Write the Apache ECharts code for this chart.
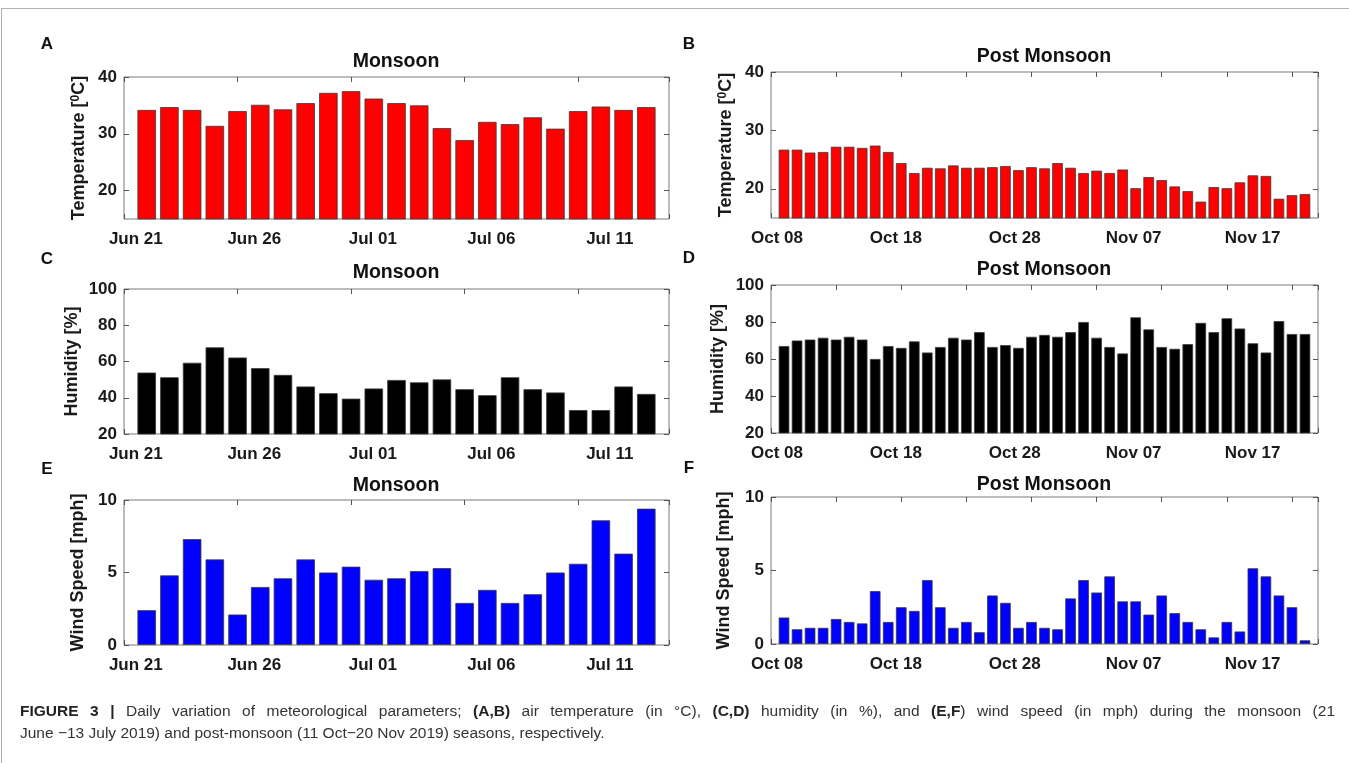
<!DOCTYPE html>
<html><head><meta charset="utf-8">
<script src="https://cdn.jsdelivr.net/npm/echarts@6/dist/echarts.min.js"></script>
<style>
html,body{margin:0;padding:0;background:#fff;width:1349px;height:763px;overflow:hidden}
#chart{position:absolute;left:0;top:0;width:1349px;height:763px}
#frame{position:absolute;left:1px;top:8px;width:1360px;height:800px;border-top:1px solid #b0b0b0;border-left:1px solid #b0b0b0}
.cap{position:absolute;left:20px;font-family:'Liberation Sans',Arial,sans-serif;font-size:15.5px;line-height:22px;color:#333;white-space:nowrap}
#cap1{top:700px;width:1315px;text-align:justify;text-align-last:justify}
#cap2{top:722px}
.cap b{color:#222}
</style></head><body>
<div id="frame"></div>
<div id="chart"></div>
<div class="cap" id="cap1"><b>FIGURE 3 |</b> Daily variation of meteorological parameters; <b>(A,B)</b> air temperature (in °C), <b>(C,D)</b> humidity (in %), and <b>(E,F</b>) wind speed (in mph) during the monsoon (21</div>
<div class="cap" id="cap2">June −13 July 2019) and post-monsoon (11 Oct−20 Nov 2019) seasons, respectively.</div>
<script>
// ---- data ----
const monsoonDates = ['Jun 21','Jun 22','Jun 23','Jun 24','Jun 25','Jun 26','Jun 27','Jun 28','Jun 29','Jun 30',
  'Jul 01','Jul 02','Jul 03','Jul 04','Jul 05','Jul 06','Jul 07','Jul 08','Jul 09','Jul 10','Jul 11','Jul 12','Jul 13'];
const postDates = ['Oct 08','Oct 09','Oct 10','Oct 11','Oct 12','Oct 13','Oct 14','Oct 15','Oct 16','Oct 17',
  'Oct 18','Oct 19','Oct 20','Oct 21','Oct 22','Oct 23','Oct 24','Oct 25','Oct 26','Oct 27',
  'Oct 28','Oct 29','Oct 30','Oct 31','Nov 01','Nov 02','Nov 03','Nov 04','Nov 05','Nov 06',
  'Nov 07','Nov 08','Nov 09','Nov 10','Nov 11','Nov 12','Nov 13','Nov 14','Nov 15','Nov 16',
  'Nov 17','Nov 18','Nov 19','Nov 20','Nov 21','Nov 22'];
const tempMonsoon = [34.2,34.7,34.2,31.4,34.0,35.1,34.3,35.4,37.2,37.5,36.2,35.4,35.0,31.0,28.9,32.1,31.7,32.9,30.9,34.0,34.8,34.2,34.7];
const tempPost = [26.7,26.7,26.2,26.3,27.2,27.2,27.0,27.4,26.3,24.4,22.7,23.6,23.5,24.0,23.6,23.6,23.7,23.9,23.2,23.7,23.5,
  24.4,23.6,22.7,23.1,22.7,23.3,20.1,22.0,21.5,20.4,19.6,17.8,20.3,20.1,21.1,22.3,22.2,18.3,18.9,19.1];
const humMonsoon = [53.9,51.3,59.3,67.8,62.2,56.3,52.6,46.2,42.5,39.5,45.1,49.8,48.5,50.1,44.7,41.4,51.3,44.7,42.9,33.2,33.2,46.2,42.1];
const humPost = [67,70,70.5,71.5,70.5,72,70.5,60,67,66,69.5,63.5,66.5,71.5,70.5,74.5,66.5,67.5,66,72,73,
  72,74.5,80,71.5,66.5,63,82.5,76,66.5,65.5,68,79.5,74.5,82,76.5,68.5,63.5,80.5,73.5,73.5];
const windMonsoon = [2.4,4.8,7.3,5.9,2.1,4.0,4.6,5.9,5.0,5.4,4.5,4.6,5.1,5.3,2.9,3.8,2.9,3.5,5.0,5.6,8.6,6.3,9.4];
const windPost = [1.8,1.0,1.1,1.1,1.7,1.5,1.4,3.6,1.5,2.5,2.25,4.35,2.5,1.1,1.5,0.8,3.3,2.8,1.1,1.5,1.1,
  1.0,3.1,4.35,3.5,4.6,2.9,2.9,2.0,3.3,2.1,1.5,1.0,0.45,1.5,0.85,5.15,4.6,3.3,2.5,0.25];
const tempTicks = [20,30,40];
const humTicks = [20,40,60,80,100];
const windTicks = [0,5,10];

// ---- layout ----
const FONT = "'Liberation Sans', Arial, Helvetica, sans-serif";
const panels = [
  {letter:'A', title:'Monsoon', vals:tempMonsoon, dates:monsoonDates, lblInt:4, color:'#ff0000', ymin:15, ymax:40, ticks:tempTicks,
   name:'Temperature [{s|0}C]', g:{left:124, top:77, width:545, height:142}, gap:36, bw:18.5, tx:396, ty:62, lx:47, ly:44},
  {letter:'B', title:'Post Monsoon', vals:tempPost, dates:postDates, lblInt:9, color:'#ff0000', ymin:15, ymax:40, ticks:tempTicks,
   name:'Temperature [{s|0}C]', g:{left:771, top:72, width:547, height:146}, gap:36, bw:10.6, tx:1044, ty:57, lx:689, ly:44},
  {letter:'C', title:'Monsoon', vals:humMonsoon, dates:monsoonDates, lblInt:4, color:'#000000', ymin:20, ymax:100, ticks:humTicks,
   name:'Humidity [%]', g:{left:124, top:289, width:545, height:145}, gap:43, bw:18.5, tx:396, ty:273, lx:47, ly:259},
  {letter:'D', title:'Post Monsoon', vals:humPost, dates:postDates, lblInt:9, color:'#000000', ymin:20, ymax:100, ticks:humTicks,
   name:'Humidity [%]', g:{left:771, top:285, width:547, height:148}, gap:44, bw:10.6, tx:1044, ty:270, lx:689, ly:258},
  {letter:'E', title:'Monsoon', vals:windMonsoon, dates:monsoonDates, lblInt:4, color:'#0000ff', ymin:0, ymax:10, ticks:windTicks,
   name:'Wind Speed [mph]', g:{left:124, top:500, width:545, height:145}, gap:37, bw:18.5, tx:396, ty:486, lx:47, ly:469},
  {letter:'F', title:'Post Monsoon', vals:windPost, dates:postDates, lblInt:9, color:'#0000ff', ymin:0, ymax:10, ticks:windTicks,
   name:'Wind Speed [mph]', g:{left:771, top:497, width:547, height:147}, gap:38, bw:10.6, tx:1044, ty:485, lx:689, ly:468}
];

const grid = [], xAxis = [], yAxis = [], series = [], graphic = [];
const tickStyle = {color:'#555', width:1};
const noLine = {show:false, onZero:false};
panels.forEach((p, i) => {
  const n = p.vals.length;
  grid.push(Object.assign({show:true, borderColor:'#7a7a7a', borderWidth:1, backgroundColor:'#fff', containLabel:false}, p.g));
  // bar position axis (bottom)
  xAxis.push({gridIndex:i, type:'value', min:0, max:n+1, interval:5, position:'bottom',
    axisLine:noLine, axisTick:{show:true, inside:true, length:5, lineStyle:tickStyle},
    axisLabel:{show:false}, splitLine:{show:false}});
  // mirror (top)
  xAxis.push({gridIndex:i, type:'value', min:0, max:n+1, interval:5, position:'top',
    axisLine:noLine, axisTick:{show:true, inside:true, length:5, lineStyle:tickStyle},
    axisLabel:{show:false}, splitLine:{show:false}});
  // date label axis
  xAxis.push({gridIndex:i, type:'category', data:p.dates, boundaryGap:true, position:'bottom',
    axisLine:noLine, axisTick:{show:false}, splitLine:{show:false},
    axisLabel:{interval:p.lblInt, fontSize:17, fontWeight:'bold', color:'#1a1a1a', fontFamily:FONT, margin:12}});
  yAxis.push({gridIndex:i, type:'value', min:p.ymin, max:p.ymax, position:'left',
    axisLine:noLine, splitLine:{show:false},
    axisTick:{show:true, inside:true, length:5, lineStyle:tickStyle, customValues:p.ticks},
    axisLabel:{customValues:p.ticks, fontSize:17, fontWeight:'bold', color:'#1a1a1a', fontFamily:FONT, margin:7},
    name:p.name, nameLocation:'middle', nameRotate:90, nameGap:p.gap,
    nameTextStyle:{fontSize:18, fontWeight:'bold', color:'#1a1a1a', fontFamily:FONT,
      rich:{s:{fontSize:12, fontWeight:'bold', color:'#1a1a1a', fontFamily:FONT, verticalAlign:'top'}}}});
  yAxis.push({gridIndex:i, type:'value', min:p.ymin, max:p.ymax, position:'right',
    axisLine:noLine, splitLine:{show:false},
    axisTick:{show:true, inside:true, length:5, lineStyle:tickStyle, customValues:p.ticks},
    axisLabel:{show:false}});
  series.push({type:'bar', xAxisIndex:3*i, yAxisIndex:2*i, barWidth:p.bw, clip:true, silent:true,
    data:p.vals.map((v, k) => [k + 1, v]),
    itemStyle:{color:p.color, borderColor:'#3a3a3a', borderWidth:0.8}});
  graphic.push({type:'text', x:p.tx, y:p.ty, silent:true,
    style:{text:p.title, fontSize:19.5, fontWeight:'bold', fontFamily:FONT, fill:'#111', align:'center', verticalAlign:'middle'}});
  graphic.push({type:'text', x:p.lx, y:p.ly, silent:true,
    style:{text:p.letter, fontSize:17, fontWeight:'bold', fontFamily:FONT, fill:'#111', align:'center', verticalAlign:'middle'}});
});

const chart = echarts.init(document.getElementById('chart'), null, {renderer:'canvas'});
chart.setOption({animation:false, backgroundColor:'transparent', grid, xAxis, yAxis, series, graphic});
</script>
</body></html>
